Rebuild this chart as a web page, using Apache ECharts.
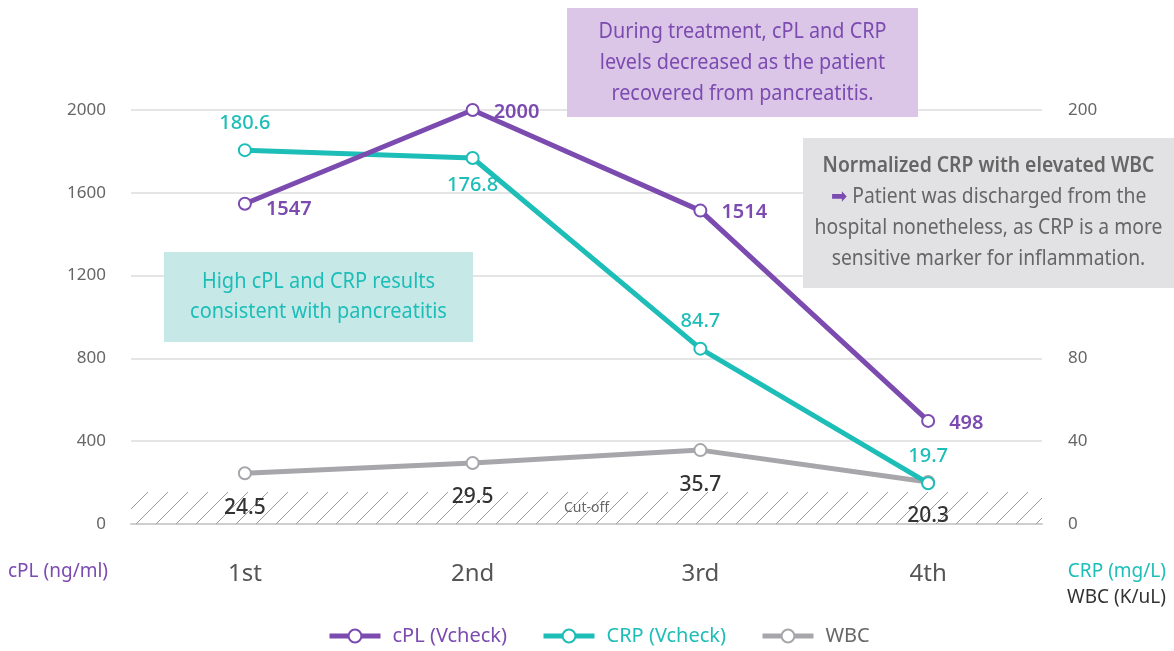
<!DOCTYPE html>
<html><head><meta charset="utf-8">
<script src="https://cdn.jsdelivr.net/npm/echarts@6/dist/echarts.min.js"></script>
<style>html,body{margin:0;padding:0;background:#fff}#c{width:1174px;height:651px}</style>
</head><body><div id="c"></div>
<script>
const categories = ['1st', '2nd', '3rd', '4th'];
const cplValues = [1547, 2000, 1514, 498];
const crpValues = [180.6, 176.8, 84.7, 19.7];
const wbcValues = [24.5, 29.5, 35.7, 20.3];
const cutoffWbc = 15.5;

const FONT = '"Noto Sans", Roboto, sans-serif';
const PURPLE = '#7b4bb0', TEAL = '#1dbdb8', GRAY = '#a7a7ab';

// hatch pattern
const pc = document.createElement('canvas');
pc.width = 20; pc.height = 20;
const g = pc.getContext('2d');
g.strokeStyle = '#9a9a9a'; g.lineWidth = 1;
g.beginPath(); g.moveTo(0, 20); g.lineTo(20, 0); g.stroke();
g.beginPath(); g.moveTo(-10, 10); g.lineTo(10, -10); g.stroke();
g.beginPath(); g.moveTo(10, 30); g.lineTo(30, 10); g.stroke();

const chart = echarts.init(document.getElementById('c'));
function lbl(color, pos, weight, dist, size) {
  return {show: true, position: pos, color: color, fontSize: size || 20, fontFamily: FONT, fontWeight: weight || 600, distance: dist || 8};
}
function seriesLabels(vals, positions, color, weight, dist, size) {
  return vals.map((v, i) => ({value: v, label: lbl(color, positions[i], weight, dist, size)}));
}
function box(left, top, w, h, fill, text, sx) {
  return {type: 'group', left: left, top: top, z: 100, children: [
    {type: 'rect', z: 100, shape: {x: 0, y: 0, width: w, height: h}, style: {fill: fill}},
    Object.assign({type: 'text', z: 101, x: w / 2, y: h / 2, scaleX: sx}, text)
  ]};
}
chart.setOption({
  animation: false,
  textStyle: {fontFamily: FONT},
  grid: {left: 131, right: 132, top: 110, bottom: 127},
  legend: {
    bottom: 0, left: 322, itemWidth: 51, itemHeight: 16, itemGap: 34,
    lineStyle: {width: 5},
    textStyle: {fontSize: 20, fontFamily: FONT, padding: [0, 0, 0, 7]},
    data: [
      {name: 'cPL (Vcheck)', textStyle: {color: PURPLE}},
      {name: 'CRP (Vcheck)', textStyle: {color: TEAL}},
      {name: 'WBC', textStyle: {color: '#666'}}
    ]
  },
  xAxis: {
    type: 'category', data: categories, boundaryGap: true,
    axisLine: {lineStyle: {color: '#cfcfcf', width: 2}}, axisTick: {show: false},
    axisLabel: {fontSize: 24, color: '#555', margin: 38, fontFamily: FONT}
  },
  yAxis: [
    {type: 'value', min: 0, max: 2000, interval: 400, position: 'left',
     axisLine: {show: false}, axisTick: {show: false},
     splitLine: {lineStyle: {color: '#dcdcdc', width: 1.5}},
     axisLabel: {fontSize: 17, color: '#666', margin: 25, fontFamily: FONT, formatter: v => String(v)}},
    {type: 'value', min: 0, max: 200, interval: 40, position: 'right',
     axisLine: {show: false}, axisTick: {show: false}, splitLine: {show: false},
     axisLabel: {fontSize: 17, color: '#666', margin: 26, fontFamily: FONT, formatter: v => String(v)}}
  ],
  series: [
    {name: 'WBC', type: 'line', yAxisIndex: 1, z: 2,
     data: seriesLabels(wbcValues, ['bottom', 'bottom', 'bottom', 'bottom'], '#333', 500, 17, 21),
     lineStyle: {color: GRAY, width: 5}, itemStyle: {color: GRAY, borderWidth: 3},
     symbol: 'emptyCircle', symbolSize: 12,
     markArea: {silent: true,
       itemStyle: {color: {image: pc, repeat: 'repeat'}},
       label: {show: true, position: 'inside', formatter: 'Cut-off', color: '#666', fontSize: 14, fontFamily: FONT},
       data: [[{yAxis: 0}, {yAxis: cutoffWbc}]]}
    },
    {name: 'CRP (Vcheck)', type: 'line', yAxisIndex: 1, z: 3,
     data: seriesLabels(crpValues, ['top', 'bottom', 'top', 'top'], TEAL, 500, 10),
     lineStyle: {color: TEAL, width: 5}, itemStyle: {color: TEAL, borderWidth: 3},
     symbol: 'emptyCircle', symbolSize: 12},
    {name: 'cPL (Vcheck)', type: 'line', yAxisIndex: 0, z: 4,
     data: cplValues.map((v, i) => ({value: v, label: {show: true, position: 'right', color: PURPLE, fontSize: 20, fontWeight: 600, fontFamily: FONT, distance: 14, offset: i === 0 ? [0, 6] : [0, 2]}})),
     lineStyle: {color: PURPLE, width: 5}, itemStyle: {color: PURPLE, borderWidth: 3},
     symbol: 'emptyCircle', symbolSize: 12}
  ],
  graphic: [
    {type: 'text', left: 8, top: 562, z: 100, style: {text: 'cPL (ng/ml)', fill: PURPLE, font: '19px ' + FONT}},
    {type: 'text', right: 8, top: 562, z: 100, style: {text: 'CRP (mg/L)', fill: TEAL, font: '19px ' + FONT}},
    {type: 'text', right: 8, top: 588, z: 100, style: {text: 'WBC (K/uL)', fill: '#333', font: '19px ' + FONT}},
    box(164, 252, 309, 90, '#c6e9e7',
      {style: {text: 'High cPL and CRP results\nconsistent with pancreatitis', fill: TEAL, font: '21px ' + FONT, align: 'center', verticalAlign: 'middle', lineHeight: 30}}, 0.95),
    box(567, 8, 351, 109, '#dcc6e8',
      {style: {text: 'During treatment, cPL and CRP\nlevels decreased as the patient\nrecovered from pancreatitis.', fill: PURPLE, font: '22px ' + FONT, align: 'center', verticalAlign: 'middle', lineHeight: 31}}, 0.9),
    box(803, 138, 371, 150, '#e2e2e4',
      {style: {
        text: '{b|Normalized CRP with elevated WBC}\n{a|➡}{n| Patient was discharged from the}\n{n|hospital nonetheless, as CRP is a more}\n{n|sensitive marker for inflammation.}',
        align: 'center', verticalAlign: 'middle',
        rich: {
          b: {fill: '#666', font: '600 21px ' + FONT, lineHeight: 31},
          n: {fill: '#666', font: '21px ' + FONT, lineHeight: 31},
          a: {fill: PURPLE, font: '21px ' + FONT, lineHeight: 31}
        }}}, 0.92)
  ]
});
</script></body></html>
